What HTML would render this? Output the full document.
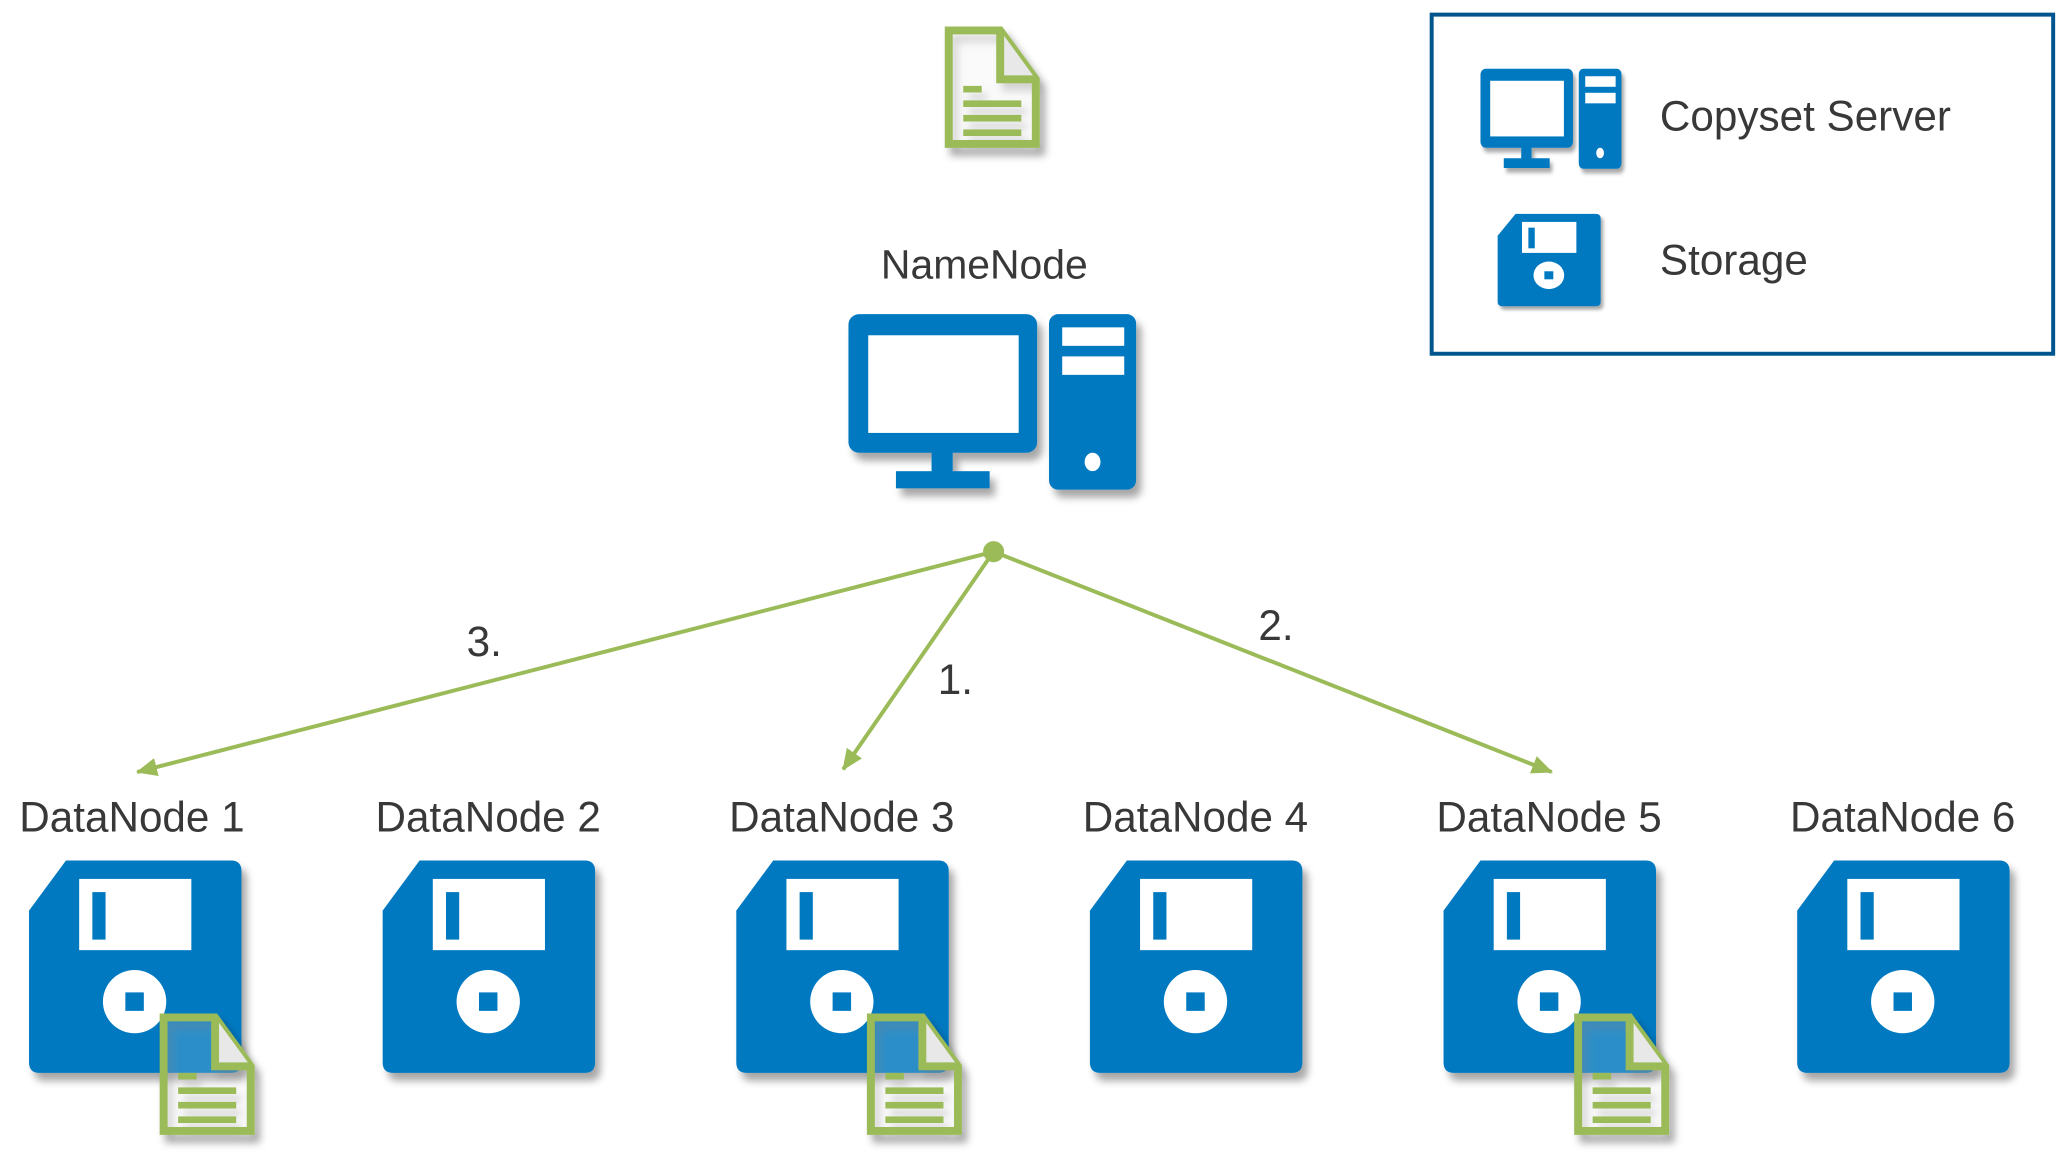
<!DOCTYPE html>
<html><head><meta charset="utf-8"><style>
html,body{margin:0;padding:0;background:#fff;}
svg{display:block;}
text{font-family:"Liberation Sans",sans-serif;fill:#383838;}
</style></head><body>
<svg width="2069" height="1168" viewBox="0 0 1568 885" xmlns="http://www.w3.org/2000/svg">
<defs>
<filter id="sh" x="-20%" y="-20%" width="150%" height="150%">
<feDropShadow dx="4" dy="6" stdDeviation="3" flood-color="#000" flood-opacity="0.35"/>
</filter>
<marker id="ar" markerWidth="16" markerHeight="14" refX="15" refY="7" orient="auto" markerUnits="userSpaceOnUse" viewBox="0 0 16 14">
<path d="M0,0 L16,7 L0,14 Z" fill="#9BBB59"/>
</marker>
<g id="doc">
<path d="M3,3 H42 L69,40 V89 H3 Z" fill="#fff" fill-opacity="0.15" stroke="#9BBB59" stroke-width="6"/>
<path d="M42,3 V40 H69" fill="#e8e8e8" stroke="#9BBB59" stroke-width="6"/>
<rect x="14" y="45" width="14" height="5" fill="#9BBB59"/>
<rect x="14" y="56" width="44" height="5" fill="#9BBB59"/>
<rect x="14" y="67" width="44" height="5" fill="#9BBB59"/>
<rect x="14" y="78" width="44" height="5" fill="#9BBB59"/>
</g>
<g id="pc">
<rect x="0" y="0" width="143" height="105" rx="8" fill="#0079C1"/>
<rect x="15" y="16" width="114" height="74" fill="#fff"/>
<rect x="63" y="104" width="16" height="16" fill="#0079C1"/>
<rect x="36" y="119" width="71" height="13" fill="#0079C1"/>
<rect x="152" y="0" width="66" height="133" rx="7" fill="#0079C1"/>
<rect x="162" y="10" width="47" height="14" fill="#fff"/>
<rect x="162" y="32" width="47" height="14" fill="#fff"/>
<ellipse cx="185" cy="112" rx="6" ry="7" fill="#fff"/>
</g>
<g id="fl">
<path d="M28,0 H153 Q161,0 161,8 V153 Q161,161 153,161 H8 Q0,161 0,153 V38 Z" fill="#0079C1"/>
<rect x="38" y="14" width="85" height="54" fill="#fff"/>
<rect x="48" y="24" width="10" height="36" fill="#0079C1"/>
<circle cx="80" cy="107" r="24" fill="#fff"/>
<rect x="73" y="100" width="14" height="14" fill="#0079C1"/>
</g>
</defs>

<use href="#doc" x="716" y="20" filter="url(#sh)"/>
<text x="746" y="211" font-size="31" text-anchor="middle">NameNode</text>
<use href="#pc" x="643" y="238" filter="url(#sh)"/>

<g stroke="#9BBB59" stroke-width="3" fill="none">
<line x1="753" y1="418" x2="104" y2="585" marker-end="url(#ar)"/>
<line x1="753" y1="418" x2="639" y2="583" marker-end="url(#ar)"/>
<line x1="753" y1="418" x2="1176" y2="585" marker-end="url(#ar)"/>
</g>
<circle cx="753" cy="418" r="8" fill="#9BBB59"/>
<text x="367" y="497" font-size="32" text-anchor="middle">3.</text>
<text x="724" y="526" font-size="32" text-anchor="middle">1.</text>
<text x="967" y="485" font-size="32" text-anchor="middle">2.</text>

<g font-size="32" text-anchor="middle">
<text x="100" y="630">DataNode 1</text>
<text x="370" y="630">DataNode 2</text>
<text x="638" y="630">DataNode 3</text>
<text x="906" y="630">DataNode 4</text>
<text x="1174" y="630">DataNode 5</text>
<text x="1442" y="630">DataNode 6</text>
</g>
<use href="#fl" x="22" y="652" filter="url(#sh)"/>
<use href="#fl" x="290" y="652" filter="url(#sh)"/>
<use href="#fl" x="558" y="652" filter="url(#sh)"/>
<use href="#fl" x="826" y="652" filter="url(#sh)"/>
<use href="#fl" x="1094" y="652" filter="url(#sh)"/>
<use href="#fl" x="1362" y="652" filter="url(#sh)"/>
<use href="#doc" x="121" y="768" filter="url(#sh)"/>
<use href="#doc" x="657" y="768" filter="url(#sh)"/>
<use href="#doc" x="1193" y="768" filter="url(#sh)"/>

<rect x="1085" y="11" width="471" height="257" fill="none" stroke="#00558E" stroke-width="3"/>
<g transform="translate(1122,52) scale(0.49,0.57)" filter="url(#sh)"><use href="#pc"/></g>
<g transform="translate(1135,162) scale(0.485,0.435)" filter="url(#sh)"><use href="#fl"/></g>
<text x="1258" y="99" font-size="32">Copyset Server</text>
<text x="1258" y="208" font-size="32">Storage</text>
</svg>
</body></html>
